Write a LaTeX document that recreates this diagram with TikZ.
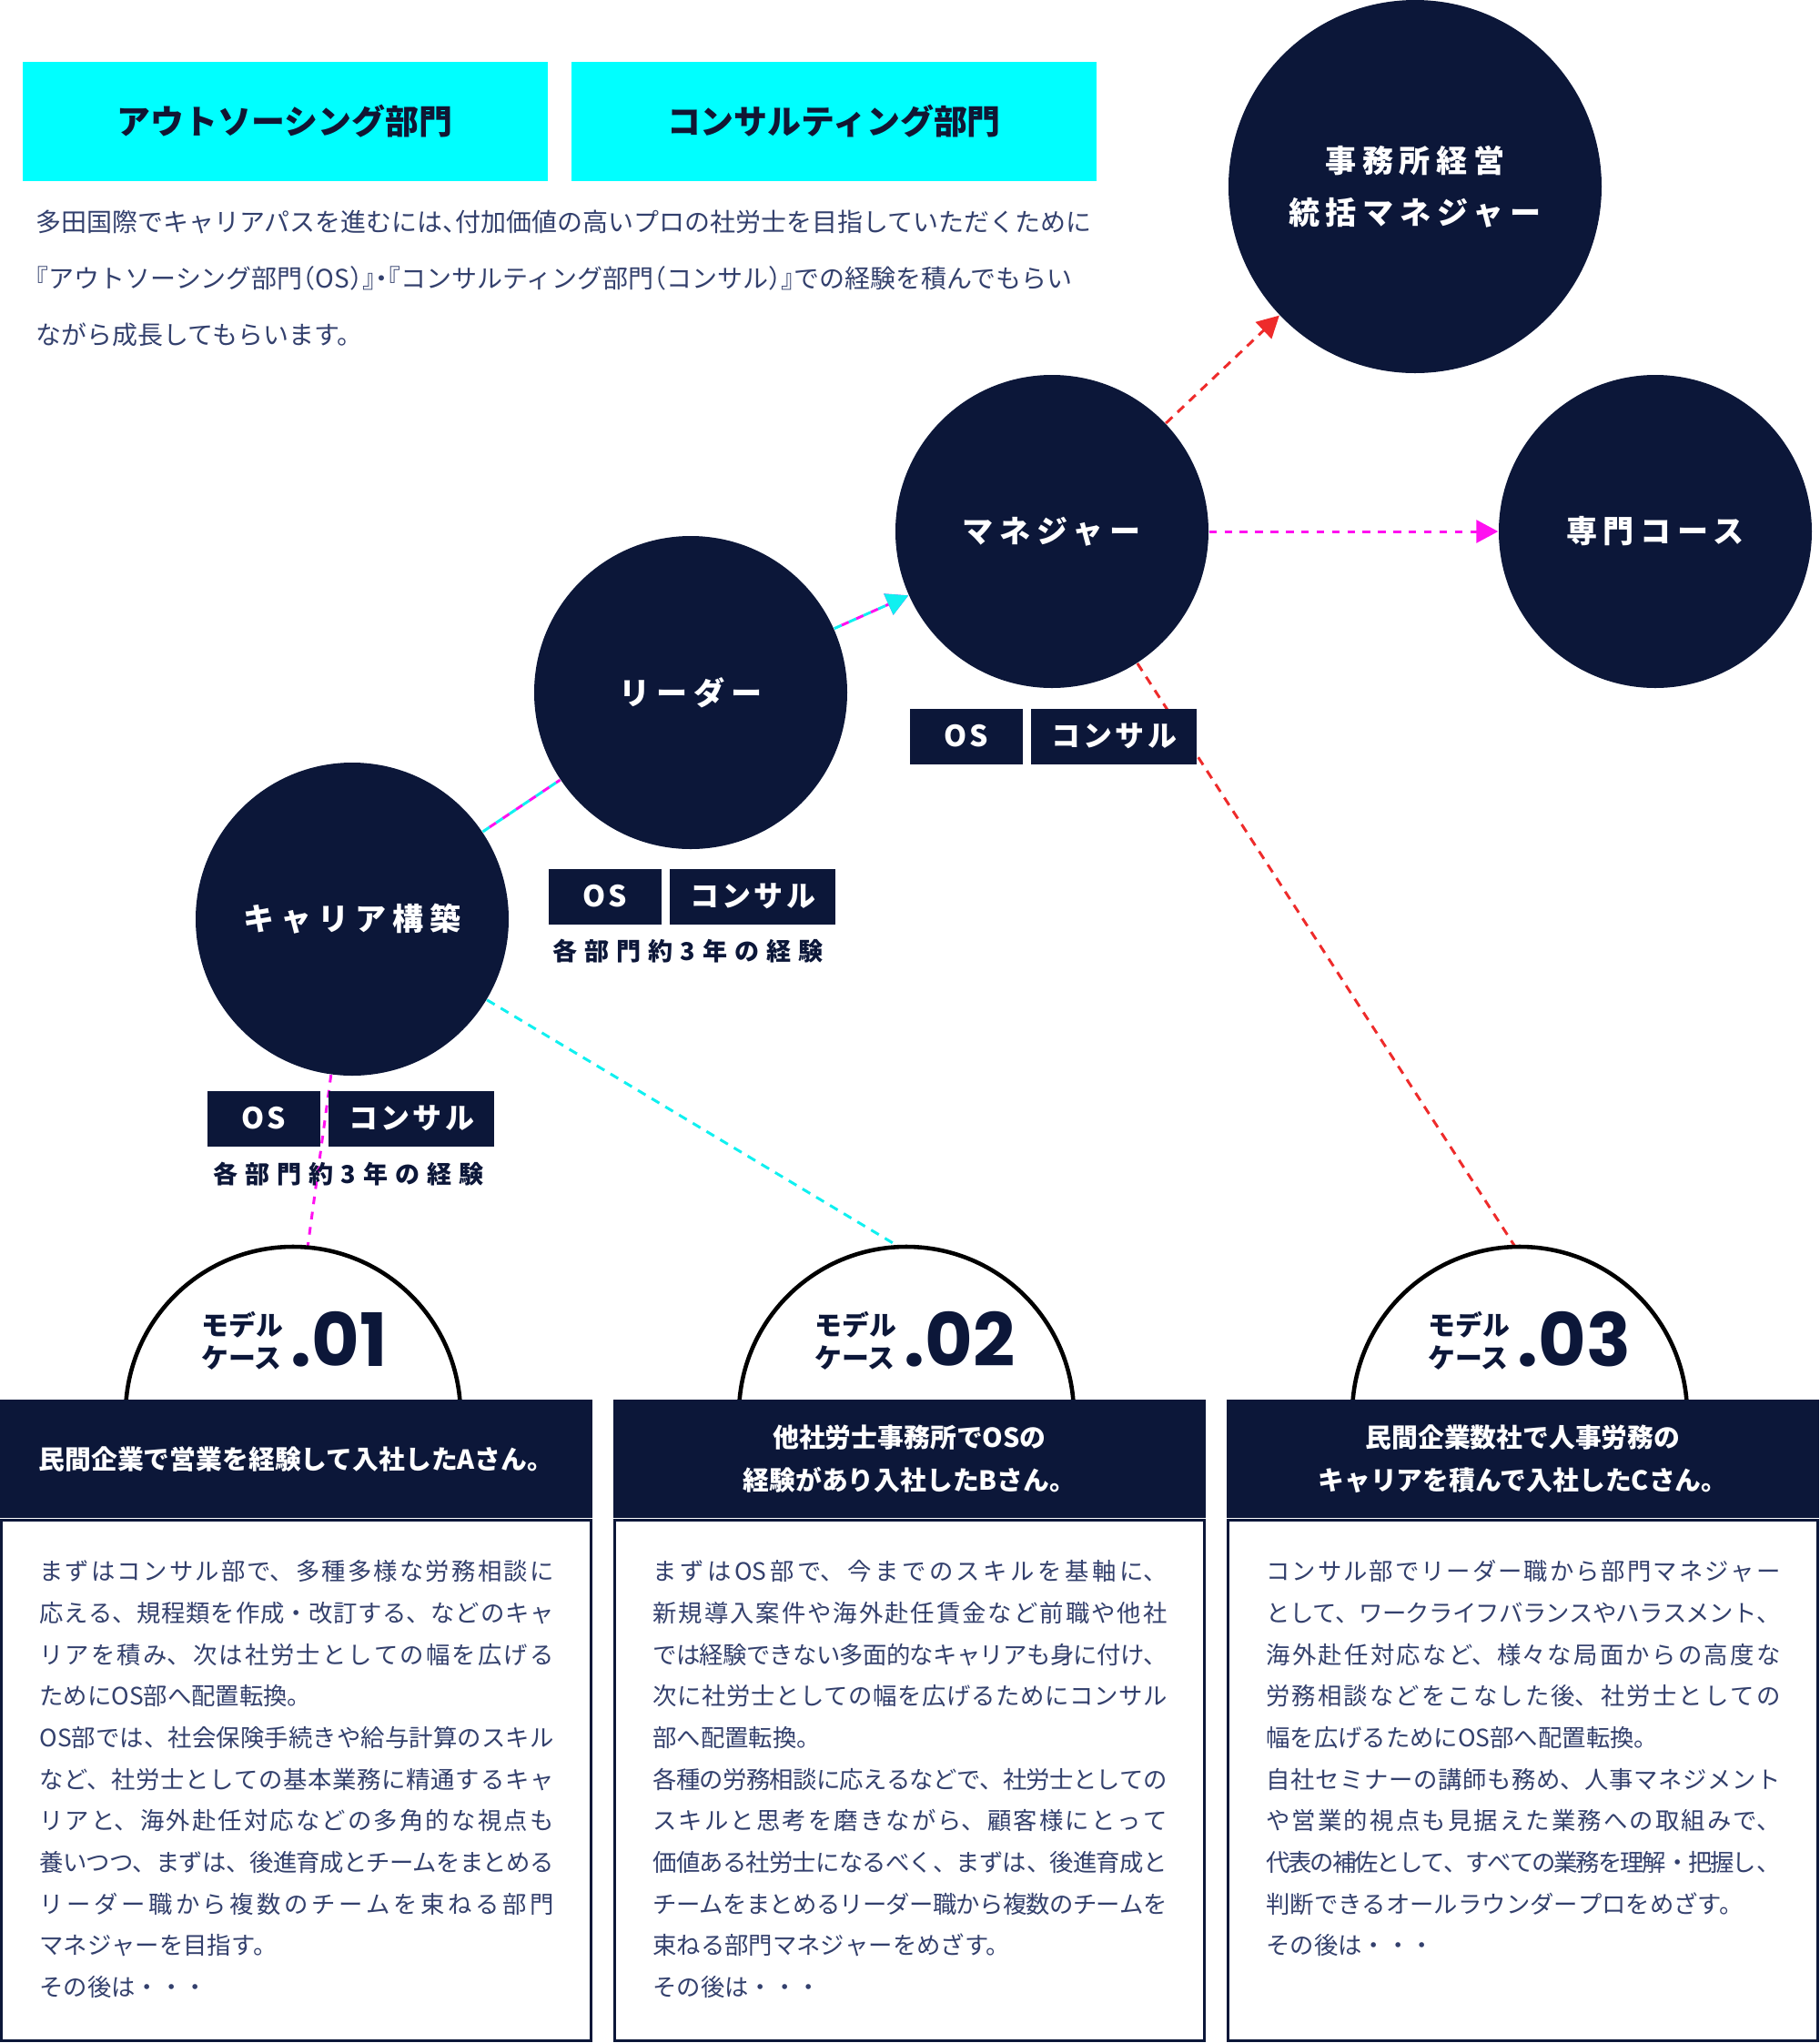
\documentclass[tikz,border=0pt]{standalone}
\usepackage{fontspec}
\usepackage{xcolor}
\setmainfont{Noto Sans CJK JP}
\newfontfamily\jpwide{Noto Sans CJK JP}[LetterSpace=20]
\newfontfamily\jptag{Noto Sans CJK JP}[LetterSpace=10]
\newfontfamily\jpspaced{Noto Sans CJK JP}[LetterSpace=30]
\newfontfamily\jphalt{Noto Sans CJK JP}[RawFeature=+halt]
\newfontfamily\numfont{Poppins}
\XeTeXlinebreaklocale "ja"
\XeTeXlinebreakskip=0pt plus 3pt minus 1.5pt
\setlength{\parindent}{0pt}
\usetikzlibrary{positioning,calc,arrows.meta,backgrounds}
\definecolor{navy}{HTML}{0C1739}
\definecolor{inknavy}{HTML}{33406D}
\definecolor{deptink}{HTML}{111633}
\definecolor{deptcyan}{HTML}{00FFFF}
\definecolor{flowred}{HTML}{EE2B2B}
\definecolor{flowpink}{HTML}{FF10F0}
\definecolor{flowcyan}{HTML}{10F0F0}

\begin{document}
\begin{tikzpicture}[
    dept_box/.style={rectangle, fill=deptcyan, minimum width=5.77cm, minimum height=1.31cm, inner sep=0pt, text=deptink, font=\bfseries\fontsize{10.5pt}{12pt}\selectfont},
    intro_text/.style={align=left, inner sep=0pt, text=inknavy, font=\jphalt\fontsize{7.96pt}{17.6pt}\selectfont},
    stage_circle/.style={circle, fill=navy, text=white, minimum size=3.44cm, inner sep=0pt, align=center, font=\jpwide\bfseries\fontsize{9.7pt}{16.2pt}\selectfont},
    tag_box/.style={rectangle, fill=navy, text=white, minimum height=0.61cm, inner sep=0pt, font=\jptag\bfseries\fontsize{9.1pt}{11pt}\selectfont},
    exp_text/.style={inner sep=0pt, text=navy, font=\jpspaced\bfseries\fontsize{7.7pt}{9pt}\selectfont},
    case_arch/.style={draw=black, line width=1.3pt, fill=white},
    case_label/.style={inner sep=0pt, align=left, text=navy, font=\bfseries\fontsize{8.5pt}{10.2pt}\selectfont},
    case_num/.style={inner sep=0pt, text=navy, font=\numfont\bfseries\fontsize{23pt}{24pt}\selectfont},
    case_head/.style={rectangle, fill=navy, text=white, minimum width=6.51cm, minimum height=1.30cm, inner sep=0pt, align=center, font=\bfseries\fontsize{8.2pt}{13.4pt}\selectfont},
    case_body/.style={rectangle, draw=navy, fill=white, line width=1pt, minimum width=6.48cm, minimum height=5.72cm, inner sep=0pt},
    case_text/.style={text width=5.65cm, align=justify, inner sep=0pt, text=inknavy, font=\fontsize{7.5pt}{13pt}\selectfont},
    red_flow/.style={draw=flowred, line width=0.85pt, dash pattern=on 2.8pt off 2.2pt},
    pink_flow/.style={draw=flowpink, line width=0.85pt, dash pattern=on 2.4pt off 2.4pt},
    cyan_flow/.style={draw=flowcyan, line width=0.85pt, dash pattern=on 2.8pt off 2.2pt},
    mixed_flow/.style={draw=flowcyan, line width=0.85pt, dash pattern=on 2.5pt off 2.5pt, preaction={draw=flowpink, line width=0.85pt, dash pattern=on 2.5pt off 2.5pt, dash phase=2.5pt}},
    flow_tip/.style={-{Triangle[length=0.24cm, width=0.25cm]}}
]
\useasboundingbox (0,0) rectangle (20,-22.45);

% Departments and intro
\node[dept_box] (outsrc) at (3.13,-1.335) {アウトソーシング部門};
\node[dept_box, right=0.25cm of outsrc] (consult) {コンサルティング部門};
\node[intro_text, anchor=west] (intro) at (0.39,-3.06) {多田国際でキャリアパスを進むには、付加価値の高いプロの社労士を目指していただくために\\『アウトソーシング部門（OS）』・『コンサルティング部門（コンサル）』での経験を積んでもらい\\ながら成長してもらいます。};

% Career stages
\node[stage_circle] (career) at (3.87,-10.10) {キャリア構築};
\node[stage_circle] (leader) at (7.59,-7.61) {リーダー};
\node[stage_circle] (manager) at (11.56,-5.84) {マネジャー};
\node[stage_circle] (course) at (18.19,-5.84) {専門コース};
\node[stage_circle, minimum size=4.1cm] (exec) at (15.55,-2.05) {事務所経営\\統括マネジャー};

% Tags under the stages
\node[tag_box, minimum width=1.24cm] (career_os) at (2.90,-12.29) {OS};
\node[tag_box, minimum width=1.82cm, right=0.08cm of career_os] (career_con) {コンサル};
\node[exp_text] (career_exp) at (3.83,-12.90) {各部門約3年の経験};

\node[tag_box, minimum width=1.24cm] (leader_os) at (6.65,-9.85) {OS};
\node[tag_box, minimum width=1.82cm, right=0.08cm of leader_os] (leader_con) {コンサル};
\node[exp_text] (leader_exp) at (7.56,-10.45) {各部門約3年の経験};

\node[tag_box, minimum width=1.24cm] (manager_os) at (10.62,-8.09) {OS};
\node[tag_box, minimum width=1.82cm, right=0.08cm of manager_os] (manager_con) {コンサル};

% Model case 1
\draw[case_arch] (5.06,-15.54) arc (0:180:1.84);
\node[case_label, anchor=east] (case1_lbl) at (3.12,-14.73) {モデル\\ケース};
\node[case_num, anchor=base west] (case1_num) at (3.19,-15.01) {.01};
\node[case_head] (case1_head) at (3.255,-16.03) {民間企業で営業を経験して入社したAさん。};
\node[case_body, below=0pt of case1_head] (case1_body) {};
\node[case_text, anchor=north west] (case1_text) at ($(case1_body.north west)+(0.43,-0.45)$) {%
まずはコンサル部で、多種多様な労務相談に\linebreak
応える、規程類を作成・改訂する、などのキャ\linebreak
リアを積み、次は社労士としての幅を広げる\linebreak
ためにOS部へ配置転換。\\
OS部では、社会保険手続きや給与計算のスキル\linebreak
など、社労士としての基本業務に精通するキャ\linebreak
リアと、海外赴任対応などの多角的な視点も\linebreak
養いつつ、まずは、後進育成とチームをまとめる\linebreak
リーダー職から複数のチームを束ねる部門\linebreak
マネジャーを目指す。\\
その後は・・・};

% Model case 2
\draw[case_arch] (11.80,-15.54) arc (0:180:1.84);
\node[case_label, anchor=east] (case2_lbl) at (9.86,-14.73) {モデル\\ケース};
\node[case_num, anchor=base west] (case2_num) at (9.93,-15.01) {.02};
\node[case_head] (case2_head) at (9.995,-16.03) {他社労士事務所でOSの\\経験があり入社したBさん。};
\node[case_body, below=0pt of case2_head] (case2_body) {};
\node[case_text, anchor=north west] (case2_text) at ($(case2_body.north west)+(0.43,-0.45)$) {%
まずはOS部で、今までのスキルを基軸に、\linebreak
新規導入案件や海外赴任賃金など前職や他社\linebreak
では経験できない多面的なキャリアも身に付け、\linebreak
次に社労士としての幅を広げるためにコンサル\linebreak
部へ配置転換。\\
各種の労務相談に応えるなどで、社労士としての\linebreak
スキルと思考を磨きながら、顧客様にとって\linebreak
価値ある社労士になるべく、まずは、後進育成と\linebreak
チームをまとめるリーダー職から複数のチームを\linebreak
束ねる部門マネジャーをめざす。\\
その後は・・・};

% Model case 3
\draw[case_arch] (18.54,-15.54) arc (0:180:1.84);
\node[case_label, anchor=east] (case3_lbl) at (16.60,-14.73) {モデル\\ケース};
\node[case_num, anchor=base west] (case3_num) at (16.67,-15.01) {.03};
\node[case_head] (case3_head) at (16.735,-16.03) {民間企業数社で人事労務の\\キャリアを積んで入社したCさん。};
\node[case_body, below=0pt of case3_head] (case3_body) {};
\node[case_text, anchor=north west] (case3_text) at ($(case3_body.north west)+(0.43,-0.45)$) {%
コンサル部でリーダー職から部門マネジャー\linebreak
として、ワークライフバランスやハラスメント、\linebreak
海外赴任対応など、様々な局面からの高度な\linebreak
労務相談などをこなした後、社労士としての\linebreak
幅を広げるためにOS部へ配置転換。\\
自社セミナーの講師も務め、人事マネジメント\linebreak
や営業的視点も見据えた業務への取組みで、\linebreak
代表の補佐として、すべての業務を理解・把握し、\linebreak
判断できるオールラウンダープロをめざす。\\
その後は・・・};

% Connector ends on the arches
\coordinate (case1_top) at (3.38,-13.71);
\coordinate (case2_top) at (9.88,-13.70);
\coordinate (case3_top) at (16.65,-13.70);

% Flow between stages
\begin{scope}[on background layer]
\draw[mixed_flow] (career) -- (leader);
\draw[mixed_flow, flow_tip] (leader) -- (manager);
\draw[red_flow, flow_tip] (manager) -- (exec);
\draw[pink_flow, flow_tip] (manager) -- (course);
\draw[pink_flow] (career) -- (case1_top);
\draw[cyan_flow] (career) -- (case2_top);
\draw[red_flow] (manager) -- (case3_top);
\end{scope}

\end{tikzpicture}
\end{document}
